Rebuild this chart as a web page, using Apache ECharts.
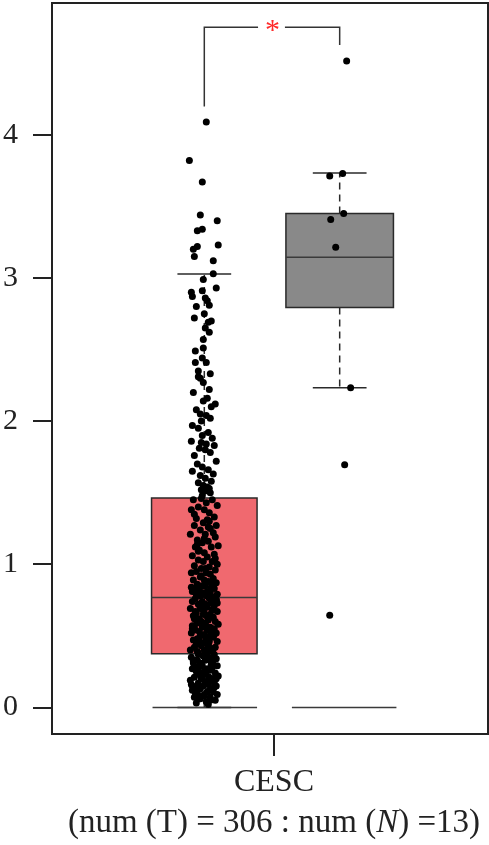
<!DOCTYPE html>
<html><head><meta charset="utf-8">
<script src="https://cdn.jsdelivr.net/npm/echarts@6/dist/echarts.min.js"></script>
<style>html,body{margin:0;padding:0;background:#fff}#c{width:489px;height:845px}</style>
</head><body><div id="c"></div>
<script>
// ---------------- data ----------------
const categories = ['CESC'];
const numTumor = 306;
const numNormal = 13;
const yTicks = [0, 1, 2, 3, 4];
// box stats: [lower whisker, Q1, median, Q3, upper whisker]
const tumorStats = [0, 0.375, 0.768, 1.462, 3.027];
const normalStats = [2.233, 2.793, 3.145, 3.450, 3.734];
const sigLabel = '*';

const tumorValues = [
  4.09,3.82,3.67,3.44,3.40,3.34,3.33,3.23,3.22,3.20,3.15,3.12,3.03,2.99,2.93,2.91,2.90,2.87,
  2.86,2.84,2.81,2.80,2.75,2.72,2.70,2.69,2.65,2.62,2.57,2.51,
  2.49,2.44,2.41,2.41,2.35,2.33,2.31,2.30,2.27,2.22,2.20,2.16,2.14,2.12,2.10,2.08,2.05,2.04,2.02,2.00,
  1.97,1.95,1.92,1.90,1.88,1.86,1.85,1.84,1.83,1.81,1.80,1.78,1.76,1.72,1.70,1.68,1.66,1.65,1.63,1.62,
  1.60,1.58,1.57,1.55,1.54,1.53,1.52,1.51,1.50,1.48,
  1.46,1.45,1.45,1.43,1.41,1.40,1.38,1.38,1.36,1.33,1.32,1.31,1.29,1.27,1.27,1.25,1.24,1.22,1.21,1.21,
  1.19,1.17,1.16,1.15,1.13,1.12,1.12,1.10,1.08,1.07,1.06,1.05,1.03,1.02,1.02,1.00,0.99,0.98,0.97,0.96,
  0.95,0.94,0.94,0.93,0.91,0.90,0.89,0.89,0.88,0.87,0.86,0.85,0.85,0.84,0.83,0.83,0.82,0.81,0.81,0.80,
  0.80,0.79,0.79,0.78,0.78,0.77,1.35,1.30,1.18,1.09,1.04,0.92,0.87,0.84,1.26,1.14,0.97,
  0.76,0.76,0.75,0.74,0.74,0.73,0.72,0.72,0.71,0.70,0.70,0.69,0.68,0.68,0.67,0.66,0.66,0.65,0.64,0.64,
  0.63,0.62,0.62,0.61,0.60,0.60,0.59,0.58,0.58,0.57,0.56,0.56,0.55,0.54,0.54,0.53,0.52,0.52,0.51,0.50,
  0.50,0.49,0.48,0.48,0.47,0.46,0.46,0.45,0.44,0.44,0.43,0.42,0.42,0.41,0.40,0.40,0.39,0.38,0.38,
  0.75,0.71,0.67,0.63,0.59,0.55,0.51,0.47,0.43,0.39,0.73,0.65,0.57,0.49,0.41,0.69,0.53,
  0.37,0.37,0.36,0.35,0.35,0.34,0.33,0.33,0.32,0.31,0.31,0.30,0.29,0.29,0.28,0.27,0.27,0.26,0.25,0.25,
  0.24,0.23,0.23,0.22,0.21,0.21,0.20,0.19,0.19,0.18,0.17,0.17,0.16,0.15,0.15,0.14,0.13,0.13,0.12,0.11,
  0.11,0.10,0.09,0.09,0.08,0.07,0.07,0.06,0.05,0.04,0.03,0.02,
  0.36,0.32,0.28,0.24,0.20,0.16,0.12,0.08,0.34,0.26,0.18,0.10,0.30,0.22,0.14,0.06,0.25,0.15,0.05,0.33,0.21
];
const tumorJitter = [
  2,-15,-2,-4,13,-2,-7,14,-7,-11,-10,9,9,-1,12,-2,-13,-12,
  1,3,5,-8,0,-10,7,4,1,5,-1,-1,
  -9,-2,-9,2,-6,6,-6,-4,-1,5,-11,3,-1,11,7,-8,-4,2,6,-3,
  -12,-6,4,-2,8,-13,-3,2,10,-5,1,6,-10,12,-7,-2,4,-12,9,-4,1,7,-6,-1,3,5,-3,0,6,-2,
  -3,8,-11,2,13,-6,0,-13,5,10,-8,3,-1,12,-10,6,-4,9,-14,1,11,-7,4,-2,14,-9,7,-5,0,10,
  -12,3,-6,8,-1,13,-10,5,-3,11,-8,2,-13,6,-4,9,0,-11,4,12,-7,1,-2,7,-9,10,-5,3,-12,6,
  -1,13,-8,2,-4,9,-10,5,0,-6,11,-3,8,-13,4,-7,1,
  5,-9,12,-2,-12,7,1,-6,10,-4,3,-14,8,-1,13,-8,0,6,-11,2,9,-5,-10,4,11,-3,-7,14,1,-12,
  6,-2,10,-9,3,-5,12,-13,0,7,-4,9,-7,2,-11,5,13,-1,-8,4,-3,11,-10,6,0,-14,8,-6,3,12,
  -2,-9,7,1,-12,10,-5,4,-7,13,-1,-10,2,9,-4,6,
  -6,10,-1,-13,4,12,-9,1,7,-4,-11,9,-2,13,-7,3,-12,6,0,-8,11,-5,2,14,-10,5,-3,8,-14,1,
  10,-6,4,-1,12,-9,7,-4,-12,3,9,-7,0,13,-2,-10,6,-5,11,2,-8,4,-1,-11,8,-3,12,-13,5,0,
  9,-6,3,-9,7,-2,10,-4,1,-12,6,-7,11
];
const normalValues = [4.516, 3.729, 3.713, 3.450, 3.408, 3.215, 2.233, 1.695, 0.643];
const normalJitter = [7, 3, -10, 4, -9, -4, 11, 5, -10];

// ---------------- layout (axis units on a hidden value x axis) ----------------
const X_MIN = -223, X_MAX = 215;
const GROUPS = [
  {center: -70, half: 53, cap: 27, zero: [-122, -17], fill: '#F0696F'},
  {center: 66, half: 54, cap: 27, zero: [18, 123], fill: '#898989'}
];
const Y_MIN = -0.186, Y_MAX = 4.921;
const BRACKET = {y: 4.751, leftDrop: 4.198, rightDrop: 4.628, gap: [-16, 11], star: -1.5};
const SERIF = "'Liberation Serif','DejaVu Serif',serif";
const INK = '#2a2a2a';

const chart = echarts.init(document.getElementById('c'), null, {renderer: 'canvas'});

function boxRender(params, api) {
  const g = GROUPS[params.dataIndex];
  const s = [api.value(0), api.value(1), api.value(2), api.value(3), api.value(4)];
  const c = g.center;
  const P = (x, y) => api.coord([x, y]);
  const tl = P(c - g.half, s[3]);
  const br = P(c + g.half, s[1]);
  const mL = P(c - g.half, s[2]), mR = P(c + g.half, s[2]);
  const cx = P(c, 0)[0];
  const yMin = P(c, s[0])[1], yMax = P(c, s[4])[1];
  const capL = P(c - g.cap, 0)[0], capR = P(c + g.cap, 0)[0];
  const z0 = P(g.zero[0], 0), z1 = P(g.zero[1], 0);
  const solid = {stroke: INK, lineWidth: 1.5};
  const dashed = {stroke: INK, lineWidth: 1.5, lineDash: [7, 5]};
  return {
    type: 'group',
    children: [
      {type: 'line', shape: {x1: cx, y1: tl[1], x2: cx, y2: yMax}, style: dashed},
      {type: 'line', shape: {x1: cx, y1: br[1], x2: cx, y2: yMin}, style: dashed},
      {type: 'line', shape: {x1: capL, y1: yMax, x2: capR, y2: yMax}, style: solid},
      {type: 'line', shape: {x1: capL, y1: yMin, x2: capR, y2: yMin}, style: solid},
      {type: 'rect', shape: {x: tl[0], y: tl[1], width: br[0] - tl[0], height: br[1] - tl[1]},
        style: {fill: g.fill, stroke: INK, lineWidth: 1.5}},
      {type: 'line', shape: {x1: mL[0], y1: mL[1], x2: mR[0], y2: mR[1]}, style: {stroke: '#3a3a3a', lineWidth: 1.5}},
      {type: 'line', shape: {x1: z0[0], y1: z0[1], x2: z1[0], y2: z1[1]}, style: {stroke: '#3a3a3a', lineWidth: 1.5}}
    ]
  };
}

function bracketRender(params, api) {
  const a = GROUPS[0].center, b = GROUPS[1].center;
  const P = (x, y) => api.coord([x, y]);
  const tl = P(a, BRACKET.y), tr = P(b, BRACKET.y);
  const ld = P(a, BRACKET.leftDrop), rd = P(b, BRACKET.rightDrop);
  const g0 = P(BRACKET.gap[0], BRACKET.y), g1 = P(BRACKET.gap[1], BRACKET.y);
  const st = P(BRACKET.star, BRACKET.y);
  const style = {stroke: '#333', lineWidth: 1.5};
  return {
    type: 'group',
    children: [
      {type: 'polyline', shape: {points: [ld, tl, g0]}, style: Object.assign({fill: null}, style)},
      {type: 'polyline', shape: {points: [g1, tr, rd]}, style: Object.assign({fill: null}, style)},
      {type: 'text', x: st[0], y: st[1] + 4, style: {text: sigLabel, fill: '#ff2a2a', font: '30px ' + SERIF,
        align: 'center', verticalAlign: 'middle'}}
    ]
  };
}

const tumorPoints = tumorValues.map((v, i) => [GROUPS[0].center + (tumorJitter[i] || 0), v]);
const normalPoints = normalValues.map((v, i) => [GROUPS[1].center + (normalJitter[i] || 0), v]);

chart.setOption({
  animation: false,
  grid: {left: 49, right: 1, top: 3, bottom: 111, show: true, borderColor: '#222', borderWidth: 2},
  xAxis: {
    type: 'value', min: X_MIN, max: X_MAX,
    axisLine: {show: true, onZero: false, lineStyle: {color: '#222', width: 2}},
    splitLine: {show: false},
    axisTick: {show: true, customValues: [0], length: 22, lineStyle: {color: '#222', width: 2}},
    axisLabel: {
      customValues: [0], margin: 29,
      formatter: () => '{a|' + categories[0] + '}\n{b|(num (T) = ' + numTumor + ' : num (}{i|N}{b|) =' + numNormal + ')}',
      rich: {
        a: {fontFamily: SERIF, fontSize: 32, color: '#222', lineHeight: 40},
        b: {fontFamily: SERIF, fontSize: 33, color: '#222', lineHeight: 40},
        i: {fontFamily: SERIF, fontSize: 33, color: '#222', fontStyle: 'italic', lineHeight: 40}
      }
    }
  },
  yAxis: {
    type: 'value', min: Y_MIN, max: Y_MAX,
    axisLine: {show: true, onZero: false, lineStyle: {color: '#222', width: 2}},
    splitLine: {show: false},
    axisTick: {show: true, customValues: yTicks, length: 19, lineStyle: {color: '#222', width: 2}},
    axisLabel: {customValues: yTicks, margin: 34, fontFamily: SERIF, fontSize: 30, color: '#222'}
  },
  series: [
    {type: 'custom', renderItem: boxRender, z: 2, silent: true,
      data: [tumorStats, normalStats]},
    {type: 'scatter', data: tumorPoints, symbolSize: 7, itemStyle: {color: '#000', opacity: 1}, z: 3, silent: true},
    {type: 'scatter', data: normalPoints, symbolSize: 7, itemStyle: {color: '#000', opacity: 1}, z: 3, silent: true},
    {type: 'custom', renderItem: bracketRender, z: 4, silent: true, data: [[0, 0]]}
  ]
});
</script>
</body></html>
